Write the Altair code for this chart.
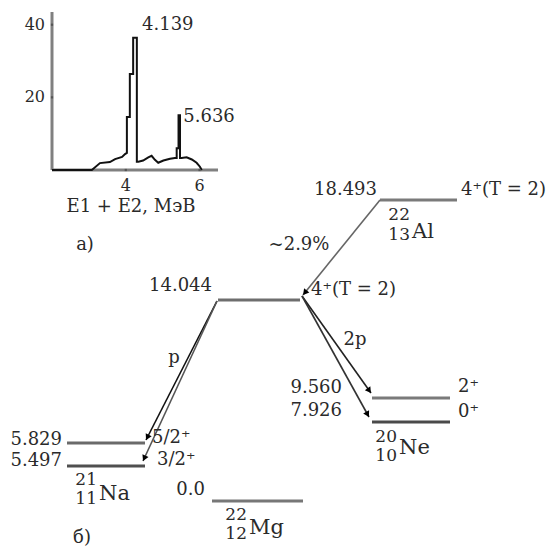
import altair as alt
import pandas as pd
import numpy as np

FONT = "DejaVu Serif"
TXT = "#2a2a2a"

# ---------------- inset histogram (E1+E2, MeV vs counts) ----------------
hist_E = [2.0, 3.08, 3.30, 3.57, 3.71, 3.90, 3.98, 4.03, 4.03, 4.11, 4.11, 4.20, 4.20, 4.30,
          4.30, 4.34, 4.47, 4.61, 4.70, 4.79, 4.88, 5.02, 5.20, 5.33, 5.38, 5.38, 5.43, 5.43,
          5.47, 5.47, 5.51, 5.65, 5.79, 5.92, 6.01, 6.06]
hist_N = [0.0, 0.0, 1.9, 2.2, 3.0, 3.6, 4.4, 4.7, 14.6, 14.6, 26.4, 26.4, 36.4, 36.4,
          2.3, 2.3, 2.6, 3.5, 3.9, 2.8, 2.0, 2.6, 3.1, 3.3, 3.3, 6.0, 6.0, 15.1,
          15.1, 3.3, 3.3, 3.5, 2.9, 2.0, 0.9, 0.0]
hist_xticks = [4, 6]
hist_yticks = [20, 40]
peak_E = [4.25, 5.45]
peak_N = [36.4, 15.1]
peak_text = ["4.139", "5.636"]

# ---------------- level scheme (diagram units) ----------------
level_x1 = [380, 218, 67, 67, 212, 372, 372]
level_x2 = [457, 300, 145, 145, 303, 450, 450]
level_y = [200, 300, 443, 466, 501, 398, 422]
level_col = ["#7a7a7a", "#6e6e6e", "#6a6a6a", "#4f4f4f", "#777777", "#7a7a7a", "#4a4a4a"]

arr_x1 = [380, 217, 217, 302, 302]
arr_y1 = [200, 301, 301, 296, 296]
arr_x2 = [303, 146, 143, 371, 369]
arr_y2 = [295, 440, 461, 393, 417]
arr_col = ["#666666", "#111111", "#555555", "#222222", "#333333"]

energy_text = ["18.493", "14.044", "5.829", "5.497", "0.0", "9.560", "7.926"]
energy_x = [377, 212, 62, 62, 205, 342, 342]
energy_y = [190, 286, 440, 461, 490, 388, 411]

spin_text = ["4\u207a(T = 2)", "4\u207a(T = 2)", "5/2\u207a", "3/2\u207a", "2\u207a", "0\u207a"]
spin_x = [461, 311, 152, 157, 458, 458]
spin_y = [190, 290, 438, 460, 387, 412]

trans_text = ["~2.9%", "p", "2p"]
trans_x = [299, 174, 355]
trans_y = [245, 358, 340]

nuc_A = ["22", "21", "22", "20"]
nuc_Z = ["13", "11", "12", "10"]
nuc_sym = ["Al", "Na", "Mg", "Ne"]
nuc_sx = [410, 97, 247, 397]
nuc_Ay = [215, 480, 515, 437]
nuc_Zy = [235, 499, 534, 456]
nuc_symx = [412, 99, 249, 399]
nuc_symy = [232, 494, 528, 448]

panel_text = ["а)", "б)", "E1 + E2, МэВ"]
panel_x = [85, 82, 131]
panel_y = [245, 538, 207]

# ---------------- scales ----------------
X = alt.Scale(domain=[0, 555], range=[-8, 547], nice=False, zero=False)
Y = alt.Scale(domain=[0, 555], range=[-8, 547], nice=False, zero=False)
HX = alt.Scale(domain=[2, 6.5], range=[44, 210], nice=False, zero=False)
HY = alt.Scale(domain=[0, 43.5], range=[162, 4], nice=False, zero=False)


def mx(f):
    return alt.X(f, scale=X, axis=None)


def my(f):
    return alt.Y(f, scale=Y, axis=None)


def hx(f):
    return alt.X(f, scale=HX, axis=None)


def hy(f):
    return alt.Y(f, scale=HY, axis=None)


# histogram
hist_df = pd.DataFrame({"E": hist_E, "N": hist_N, "i": range(len(hist_E))})
hist = alt.Chart(hist_df).mark_line(color="#111111", strokeWidth=2).encode(
    x=hx("E:Q"), y=hy("N:Q"), order="i:Q")

axes_df = pd.DataFrame({"x1": [2.0, 2.0], "x2": [6.5, 2.0], "y1": [0.0, 0.0], "y2": [0.0, 43.5]})
h_axes = alt.Chart(axes_df).mark_rule(color="#808080", strokeWidth=3).encode(
    x=hx("x1:Q"), x2="x2:Q", y=hy("y1:Q"), y2="y2:Q")

xt_df = pd.DataFrame({"v": hist_xticks, "z": [0] * len(hist_xticks), "t": [str(v) for v in hist_xticks]})
yt_df = pd.DataFrame({"v": hist_yticks, "z": [2.0] * len(hist_yticks), "t": [str(v) for v in hist_yticks]})
xt_lab = alt.Chart(xt_df).mark_text(font=FONT, fontSize=16, color=TXT, dy=16, baseline="middle").encode(
    x=hx("v:Q"), y=hy("z:Q"), text="t:N")
yt_lab = alt.Chart(yt_df).mark_text(font=FONT, fontSize=16, color=TXT, dx=-7, align="right",
                                    baseline="middle").encode(
    x=hx("z:Q"), y=hy("v:Q"), text="t:N")
xt_dot = alt.Chart(xt_df).mark_point(shape="square", filled=True, size=5, color="#555555", dy=-3,
                                     opacity=1).encode(x=hx("v:Q"), y=hy("z:Q"))
yt_dot = alt.Chart(yt_df).mark_point(shape="square", filled=True, size=5, color="#555555", dx=3,
                                     opacity=1).encode(x=hx("z:Q"), y=hy("v:Q"))

peak_df = pd.DataFrame({"E": peak_E, "N": peak_N, "t": peak_text})
peak_lab1 = alt.Chart(peak_df.iloc[[0]]).mark_text(font=FONT, fontSize=18, color=TXT, align="left",
                                                    baseline="middle", dx=7, dy=-13).encode(
    x=hx("E:Q"), y=hy("N:Q"), text="t:N")
peak_lab2 = alt.Chart(peak_df.iloc[[1]]).mark_text(font=FONT, fontSize=18, color=TXT, align="left",
                                                    baseline="middle", dx=4, dy=2).encode(
    x=hx("E:Q"), y=hy("N:Q"), text="t:N")

# levels
lev_df = pd.DataFrame({"x1": level_x1, "x2": level_x2, "y": level_y, "c": level_col})
levels = alt.Chart(lev_df).mark_rule(strokeWidth=3).encode(
    x=mx("x1:Q"), x2="x2:Q", y=my("y:Q"), color=alt.Color("c:N", scale=None))

# transitions
arr_df = pd.DataFrame({"x1": arr_x1, "y1": arr_y1, "x2": arr_x2, "y2": arr_y2, "c": arr_col})
arrows = alt.Chart(arr_df).mark_rule(strokeWidth=1.6).encode(
    x=mx("x1:Q"), y=my("y1:Q"), x2="x2:Q", y2="y2:Q", color=alt.Color("c:N", scale=None))

dxs = np.array(arr_x2, float) - np.array(arr_x1, float)
dys = np.array(arr_y2, float) - np.array(arr_y1, float)
lens = np.hypot(dxs, dys)
head_df = pd.DataFrame({
    "x": np.array(arr_x2, float) - 3 * dxs / lens,
    "y": np.array(arr_y2, float) - 3 * dys / lens,
    "ang": np.mod(np.degrees(np.arctan2(dxs, -dys)), 360),
})
heads = alt.Chart(head_df).mark_point(shape="triangle-up", filled=True, size=45, color="#000000",
                                      opacity=1).encode(
    x=mx("x:Q"), y=my("y:Q"), angle=alt.Angle("ang:Q", scale=None))

# texts
en_df = pd.DataFrame({"x": energy_x, "y": energy_y, "t": energy_text})
en_lab = alt.Chart(en_df).mark_text(font=FONT, fontSize=18, color=TXT, align="right",
                                    baseline="middle").encode(x=mx("x:Q"), y=my("y:Q"), text="t:N")
sp_df = pd.DataFrame({"x": spin_x, "y": spin_y, "t": spin_text})
sp_lab = alt.Chart(sp_df).mark_text(font=FONT, fontSize=18, color=TXT, align="left",
                                    baseline="middle").encode(x=mx("x:Q"), y=my("y:Q"), text="t:N")
tr_df = pd.DataFrame({"x": trans_x, "y": trans_y, "t": trans_text})
tr_lab = alt.Chart(tr_df).mark_text(font=FONT, fontSize=18, color=TXT, align="center",
                                    baseline="middle").encode(x=mx("x:Q"), y=my("y:Q"), text="t:N")

nucA_df = pd.DataFrame({"x": nuc_sx, "y": nuc_Ay, "t": nuc_A})
nucZ_df = pd.DataFrame({"x": nuc_sx, "y": nuc_Zy, "t": nuc_Z})
nucS_df = pd.DataFrame({"x": nuc_symx, "y": nuc_symy, "t": nuc_sym})
nucA = alt.Chart(nucA_df).mark_text(font=FONT, fontSize=17, color=TXT, align="right",
                                    baseline="middle").encode(x=mx("x:Q"), y=my("y:Q"), text="t:N")
nucZ = alt.Chart(nucZ_df).mark_text(font=FONT, fontSize=17, color=TXT, align="right",
                                    baseline="middle").encode(x=mx("x:Q"), y=my("y:Q"), text="t:N")
nucS = alt.Chart(nucS_df).mark_text(font=FONT, fontSize=21, color=TXT, align="left",
                                    baseline="middle").encode(x=mx("x:Q"), y=my("y:Q"), text="t:N")

pan_df = pd.DataFrame({"x": panel_x, "y": panel_y, "t": panel_text})
pan_lab = alt.Chart(pan_df).mark_text(font=FONT, fontSize=18, color=TXT, align="center",
                                      baseline="middle").encode(x=mx("x:Q"), y=my("y:Q"), text="t:N")

chart = alt.layer(
    h_axes, hist, xt_lab, yt_lab, xt_dot, yt_dot, peak_lab1, peak_lab2,
    levels, arrows, heads, en_lab, sp_lab, tr_lab, nucA, nucZ, nucS, pan_lab
).resolve_scale(x="independent", y="independent").properties(
    width=539, height=539, autosize=alt.AutoSizeParams(type="none"), padding=0,
    background="#ffffff"
).configure_view(stroke=None)

chart.save("out.html", embed_options={"renderer": "svg", "actions": False})
